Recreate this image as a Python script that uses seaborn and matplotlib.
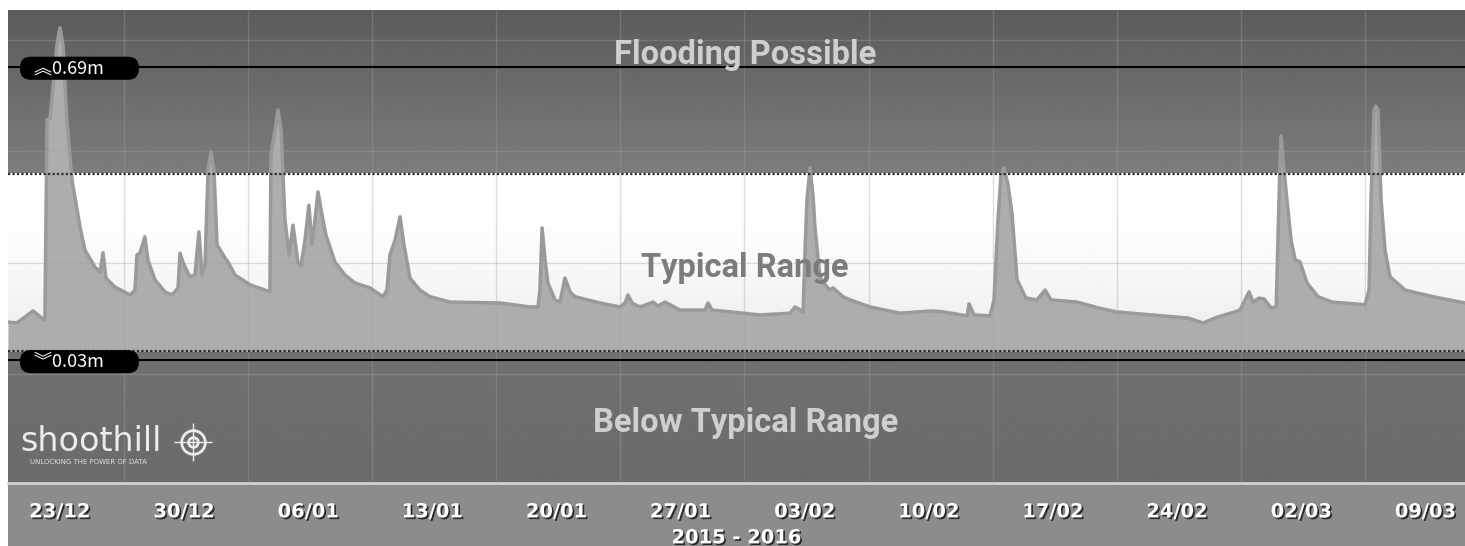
import numpy as np
import matplotlib
matplotlib.use("Agg")
import matplotlib.pyplot as plt
import matplotlib.patheffects as pe
import matplotlib.transforms as mtransforms
from matplotlib.patches import Rectangle
import seaborn as sns

# 1. Dados: dias desde 23/12/2015 e nível do rio (m)
days = [
    -2.93, -2.43, -1.52, -1.02, -0.85, -0.73, -0.56, -0.17, 0.00, 0.17,
    0.39, 0.68, 1.13, 1.41, 1.97, 2.26, 2.43, 2.59, 3.10, 3.95,
    4.23, 4.34, 4.51, 4.79, 4.96, 5.36, 5.92, 6.32, 6.66, 6.77,
    6.99, 7.33, 7.61, 7.84, 8.01, 8.18, 8.35, 8.52, 8.69, 8.86,
    9.31, 9.48, 9.87, 10.72, 11.56, 11.84,
    11.90, 12.13, 12.30, 12.47, 12.69, 12.92, 13.14, 13.42, 13.59, 13.82,
    14.04, 14.21, 14.38, 14.55, 14.78, 15.00, 15.51, 16.07, 16.64, 17.48, 18.22,
    18.44, 18.61, 18.90, 19.18, 19.40, 19.74, 20.30, 20.87, 22.00, 24.82,
    26.51, 26.96, 27.07, 27.19, 27.36, 27.52, 27.92, 28.20, 28.48, 28.77,
    29.05, 30.46, 31.58, 31.87, 32.04, 32.26, 32.71, 33.45, 33.73, 34.12,
    34.97, 36.38, 36.55, 36.78, 37.79, 39.48, 41.17, 41.46, 41.91,
    42.02, 42.13, 42.30, 42.47, 42.58, 42.86, 43.15, 43.43, 43.60, 44.16,
    44.56, 45.69, 47.38, 49.13, 49.80, 51.16, 51.27, 51.55, 52.45,
    52.68, 52.90, 53.07, 53.24, 53.47, 53.69, 53.98, 54.48, 55.10, 55.56,
    55.89, 57.36, 58.55, 59.56, 61.59, 63.62, 64.47, 65.26, 66.27, 66.55,
    67.06, 67.29, 67.62, 67.91, 68.30, 68.59,
    68.70, 68.81, 68.87, 68.98, 69.20, 69.43, 69.66, 69.94, 70.33, 70.95,
    71.74, 73.60,
    73.83, 73.94, 74.11, 74.22, 74.34, 74.51, 74.73, 75.01, 75.86, 77.44, 79.24,
]
levels = [
    0.116, 0.114, 0.141, 0.125, 0.121, 0.571, 0.575, 0.740, 0.778, 0.740,
    0.571, 0.436, 0.330, 0.278, 0.240, 0.229, 0.272, 0.215, 0.195, 0.177,
    0.188, 0.267, 0.271, 0.308, 0.256, 0.211, 0.184, 0.177, 0.193, 0.271,
    0.245, 0.218, 0.222, 0.319, 0.222, 0.245, 0.458, 0.499, 0.458, 0.290,
    0.260, 0.251, 0.222, 0.200, 0.188, 0.184,
    0.492, 0.548, 0.593, 0.548, 0.346, 0.267, 0.334, 0.251, 0.242, 0.301,
    0.379, 0.290, 0.346, 0.409, 0.357, 0.312, 0.251, 0.222, 0.204, 0.193, 0.173,
    0.188, 0.267, 0.301, 0.353, 0.290, 0.215, 0.188, 0.173, 0.161, 0.159,
    0.150, 0.150, 0.188, 0.328, 0.256, 0.204, 0.166, 0.161, 0.215, 0.184,
    0.173, 0.159, 0.150, 0.159, 0.177, 0.159, 0.150, 0.161, 0.152, 0.161,
    0.143, 0.143, 0.159, 0.143, 0.139, 0.132, 0.136, 0.150, 0.139,
    0.278, 0.391, 0.463, 0.402, 0.330, 0.218, 0.200, 0.188, 0.193, 0.173,
    0.166, 0.150, 0.136, 0.141, 0.139, 0.130, 0.157, 0.132, 0.130,
    0.166, 0.346, 0.447, 0.463, 0.425, 0.361, 0.211, 0.170, 0.166, 0.188,
    0.166, 0.161, 0.148, 0.139, 0.132, 0.125, 0.114, 0.127, 0.139, 0.143,
    0.184, 0.161, 0.170, 0.168, 0.148, 0.150,
    0.316, 0.481, 0.535, 0.481, 0.391, 0.301, 0.256, 0.251, 0.204, 0.173,
    0.161, 0.155,
    0.188, 0.391, 0.593, 0.602, 0.593, 0.391, 0.278, 0.218, 0.188, 0.173, 0.159,
]

tick_days = [0, 7, 14, 21, 28, 35, 42, 49, 56, 63, 70, 77]
tick_labels = ["23/12", "30/12", "06/01", "13/01", "20/01", "27/01",
               "03/02", "10/02", "17/02", "24/02", "02/03", "09/03"]
grid_days = [3.6 + 7 * k for k in range(11)]
grid_levels = [0.0, 0.25, 0.5, 0.75]

high_mark = 0.69      # linha preta superior
low_mark = 0.03       # linha preta inferior
typical_top = 0.45
typical_bottom = 0.05

x_min, x_max = -2.93, 79.24
y_min, y_max = -0.246, 0.818

# 2. Figura
sns.set_theme(style="white")
plt.rcParams['font.family'] = ['DejaVu Sans']

fig = plt.figure(figsize=(14.65, 5.46), dpi=100)
fig.patch.set_facecolor("white")
ax = fig.add_axes([8 / 1465, 63 / 546, 1457 / 1465, 473 / 546])

# faixa cinza do eixo x
fig.add_artist(Rectangle((8 / 1465, 0), 1, 63 / 546, transform=fig.transFigure,
                         facecolor="#8c8c8c", edgecolor="none", zorder=-5))


def band(y0, y1, grad):
    ax.imshow(grad.reshape(-1, 1), extent=[x_min, x_max, y0, y1], aspect="auto",
              cmap="gray", vmin=0, vmax=1, origin="upper", zorder=0,
              interpolation="bilinear")


t = np.linspace(0, 1, 256)
band(typical_top, y_max, 0.36 + 0.13 * t)
band(typical_bottom, typical_top, 1 - 0.09 * t ** 2)
band(y_min, typical_bottom, 0.44 - 0.02 * t)

# 3. Série
ax.fill_between(days, levels, typical_bottom, color="#adadad", zorder=2, lw=0)
sns.lineplot(x=days, y=levels, ax=ax, color="#9a9a9a", lw=2.5, zorder=3,
             estimator=None, sort=False)

# grade
ax.set_xticks(grid_days, minor=True)
ax.set_yticks(grid_levels)
ax.set_axisbelow(False)
ax.grid(which="minor", axis="x", color="#a0a0a0", alpha=0.35, lw=1)
ax.grid(which="major", axis="y", color="#a0a0a0", alpha=0.35, lw=1)
ax.grid(which="major", axis="x", visible=False)

# linhas de limite
ax.axhline(typical_top, color="#2a2a2a", lw=1.6, ls=(0, (1, 1)), zorder=5)
ax.axhline(typical_bottom, color="#2a2a2a", lw=1.6, ls=(0, (1, 1)), zorder=5)
ax.axhline(high_mark, color="black", lw=1.5, zorder=6)
ax.axhline(low_mark, color="black", lw=1.5, zorder=6)

ax.set_xlim(x_min, x_max)
ax.set_ylim(y_min, y_max)

# rótulos das faixas
trans = mtransforms.blended_transform_factory(ax.transAxes, ax.transData)
ax.text(0.506, 0.717, "Flooding Possible", transform=trans, ha="center", va="center",
        fontsize=23.5, fontweight="bold", family="Roboto", color="#cfcfcf", zorder=7)
ax.text(0.506, 0.238, "Typical Range", transform=trans, ha="center", va="center",
        fontsize=23.5, fontweight="bold", family="Roboto", color="#7c7c7c", zorder=7)
ax.text(0.506, -0.111, "Below Typical Range", transform=trans, ha="center", va="center",
        fontsize=23.5, fontweight="bold", family="Roboto", color="#cfcfcf", zorder=7)

# etiquetas dos limites (caixa preta com seta dupla)
for val, sym in [(high_mark, "\ufe3d"), (low_mark, "\ufe3e")]:
    ax.text(0.00995, val - 0.003, f"   {sym}{val:.2f}m        ", transform=trans,
            ha="left", va="center", fontsize=13, color="white", zorder=8,
            family=["Noto Sans CJK SC", "DejaVu Sans"],
            bbox=dict(boxstyle="round,pad=0.14,rounding_size=0.6",
                      facecolor="black", edgecolor="none"))

# logo
ax.text(0.0082, 0.088, "shoothill", transform=ax.transAxes, ha="left", va="center",
        fontsize=24, color="#ececec", zorder=8)
ax.text(0.0153, 0.044, "UNLOCKING THE POWER OF DATA", transform=ax.transAxes,
        ha="left", va="center", fontsize=5, color="#dddddd", zorder=8)
ax.plot([0.127], [0.087], transform=ax.transAxes, marker="o", ms=17, mfc="none",
        mec="#ececec", mew=2, zorder=8)
ax.plot([0.127], [0.087], transform=ax.transAxes, marker="o", ms=7, mfc="none",
        mec="#ececec", mew=2, zorder=8)
ax.plot([0.127], [0.087], transform=ax.transAxes, marker="+", ms=28, mec="#ececec",
        mew=1, zorder=7)

# 4. Eixo x
shadow = [pe.withSimplePatchShadow(offset=(1.2, -1.2), shadow_rgbFace="black", alpha=0.7)]
ax.set_xticks(tick_days, labels=tick_labels)
ax.tick_params(axis="x", which="both", length=0, pad=14, labelsize=14, labelcolor="white")
ax.tick_params(axis="y", left=False, labelleft=False)
for lab in ax.get_xticklabels():
    lab.set_fontweight("bold")
    lab.set_path_effects(shadow)
ax.set_xlabel("2015 - 2016", fontsize=14, fontweight="bold", color="white", labelpad=5)
ax.xaxis.label.set_path_effects(shadow)
ax.set_ylabel("")

for side in ["top", "left", "right"]:
    ax.spines[side].set_visible(False)
ax.spines["bottom"].set_color("#d0d0d0")
ax.spines["bottom"].set_linewidth(2)

fig.savefig("out.png", dpi=100)
